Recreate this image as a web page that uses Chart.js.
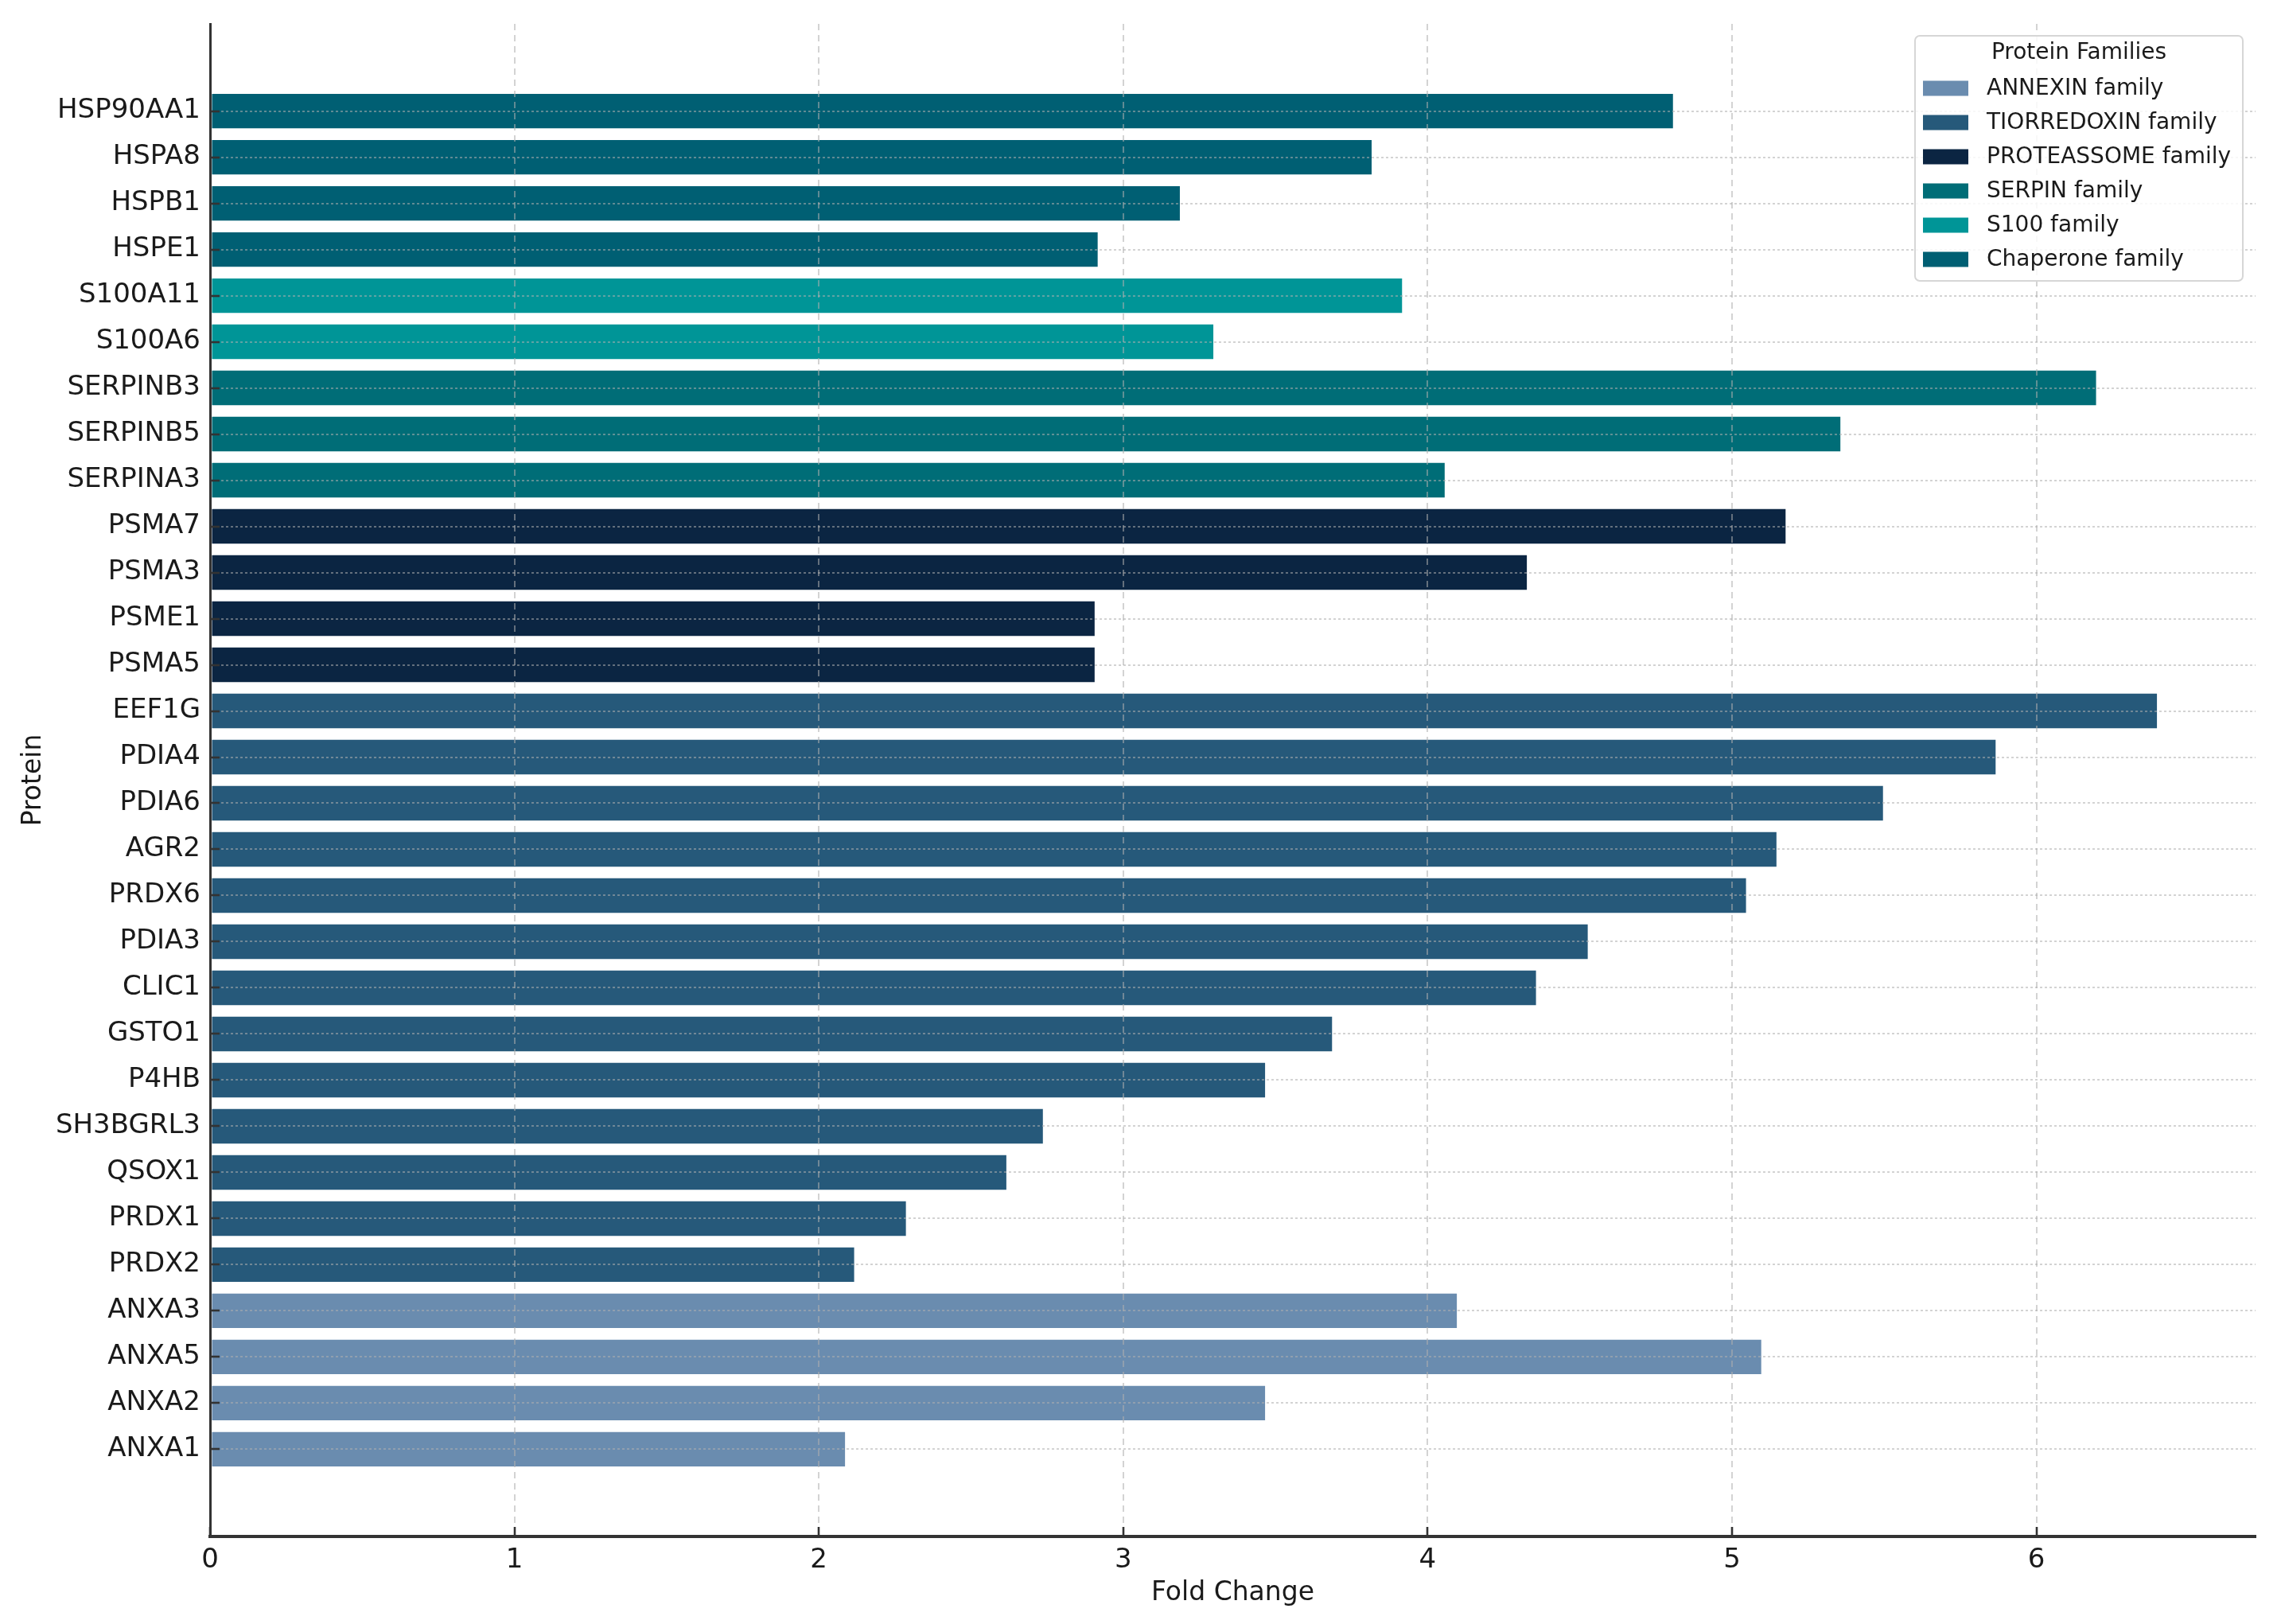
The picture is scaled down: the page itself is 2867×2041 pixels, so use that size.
<!DOCTYPE html>
<html>
<head>
<meta charset="utf-8">
<script src="https://cdn.jsdelivr.net/npm/chart.js@4.4.1/dist/chart.umd.min.js"></script>
<style>
    html, body { margin: 0; padding: 0; background: #ffffff; }
    #wrap { width: 2867px; height: 2041px; }
</style>
</head>
<body>
<div id="wrap"><canvas id="chart" width="2867" height="2041"></canvas></div>
<script>
const proteins = [
    'HSP90AA1', 'HSPA8', 'HSPB1', 'HSPE1', 'S100A11', 'S100A6',
    'SERPINB3', 'SERPINB5', 'SERPINA3', 'PSMA7', 'PSMA3', 'PSME1', 'PSMA5',
    'EEF1G', 'PDIA4', 'PDIA6', 'AGR2', 'PRDX6', 'PDIA3', 'CLIC1', 'GSTO1',
    'P4HB', 'SH3BGRL3', 'QSOX1', 'PRDX1', 'PRDX2',
    'ANXA3', 'ANXA5', 'ANXA2', 'ANXA1',
];

const foldChange = [
    4.81, 3.82, 3.19, 2.92, 3.92, 3.30,
    6.20, 5.36, 4.06, 5.18, 4.33, 2.91, 2.91,
    6.40, 5.87, 5.50, 5.15, 5.05, 4.53, 4.36, 3.69,
    3.47, 2.74, 2.62, 2.29, 2.12,
    4.10, 5.10, 3.47, 2.09,
];

const proteinFamily = [
    'Chaperone family', 'Chaperone family', 'Chaperone family', 'Chaperone family',
    'S100 family', 'S100 family',
    'SERPIN family', 'SERPIN family', 'SERPIN family',
    'PROTEASSOME family', 'PROTEASSOME family', 'PROTEASSOME family', 'PROTEASSOME family',
    'TIORREDOXIN family', 'TIORREDOXIN family', 'TIORREDOXIN family', 'TIORREDOXIN family',
    'TIORREDOXIN family', 'TIORREDOXIN family', 'TIORREDOXIN family', 'TIORREDOXIN family',
    'TIORREDOXIN family', 'TIORREDOXIN family', 'TIORREDOXIN family', 'TIORREDOXIN family',
    'TIORREDOXIN family',
    'ANNEXIN family', 'ANNEXIN family', 'ANNEXIN family', 'ANNEXIN family',
];

const familyNames = [
    'ANNEXIN family', 'TIORREDOXIN family', 'PROTEASSOME family',
    'SERPIN family', 'S100 family', 'Chaperone family',
];

const familyColors = ['#6a8caf', '#26597a', '#0b2542', '#006d77', '#009597', '#005f73'];

const xTicks = [0, 1, 2, 3, 4, 5, 6];

const TEXT = '#1a1a1a';

// legend in the upper right corner of the plot, drawn like the matplotlib frame
const familyLegend = {
    id: 'familyLegend',
    afterDraw(chart) {
        const { ctx, chartArea } = chart;
        const right = chartArea.right - 16;
        const top = chartArea.top + 15;
        const width = 412;
        const height = 308;
        const left = right - width;

        ctx.save();
        ctx.beginPath();
        ctx.roundRect(left, top, width, height, 6);
        ctx.fillStyle = 'rgba(255, 255, 255, 0.85)';
        ctx.fill();
        ctx.lineWidth = 2;
        ctx.strokeStyle = '#d6d6d6';
        ctx.stroke();

        ctx.font = '28px "DejaVu Sans"';
        ctx.fillStyle = TEXT;
        ctx.textBaseline = 'middle';
        ctx.textAlign = 'center';
        ctx.fillText('Protein Families', left + width / 2, top + 22);

        ctx.textAlign = 'left';
        chart.data.datasets.forEach((dataset, i) => {
            const cy = top + 66 + i * 43;
            ctx.fillStyle = dataset.backgroundColor;
            ctx.fillRect(left + 10, cy - 9.5, 57, 19);
            ctx.fillStyle = TEXT;
            ctx.fillText(dataset.label, left + 90, cy + 1);
        });
        ctx.restore();
    },
};

function buildDatasets() {
    return familyNames.map((name, f) => ({
        label: name,
        data: proteins
            .map((protein, i) => ({ x: foldChange[i], y: i, family: proteinFamily[i] }))
            .filter((point) => point.family === name),
        backgroundColor: familyColors[f],
        borderColor: 'rgba(255, 255, 255, 0.25)',
        borderWidth: 1.5,
        borderSkipped: false,
        grouped: false,
        barPercentage: 0.8,
        categoryPercentage: 1.0,
    }));
}

Chart.defaults.font.family = '"DejaVu Sans", sans-serif';
Chart.defaults.color = TEXT;

new Chart(document.getElementById('chart'), {
    type: 'bar',
    data: {
        datasets: buildDatasets(),
    },
    plugins: [familyLegend],
    options: {
        responsive: false,
        devicePixelRatio: 1,
        animation: false,
        indexAxis: 'y',
        layout: {
            padding: { top: 30, right: 32, left: 0, bottom: 0 },
        },
        plugins: {
            legend: { display: false },
            tooltip: { enabled: false },
        },
        scales: {
            x: {
                type: 'linear',
                min: 0,
                max: 6.72,
                afterBuildTicks(axis) {
                    axis.ticks = xTicks.map((v) => ({ value: v }));
                },
                afterFit(axis) {
                    axis.height = 110;
                    axis.paddingLeft = 0;
                    axis.paddingRight = 0;
                },
                ticks: {
                    color: TEXT,
                    padding: 22,
                    font: { size: 34 },
                },
                grid: {
                    z: 1,
                    color: 'rgba(175, 175, 175, 0.55)',
                    lineWidth: 2,
                    tickLength: -12,
                    tickColor: '#333333',
                    tickWidth: 2.6,
                },
                border: {
                    display: true,
                    color: '#333333',
                    width: 4,
                    dash: [8, 6],
                    z: 2,
                },
                title: {
                    display: true,
                    text: 'Fold Change',
                    color: TEXT,
                    font: { size: 33 },
                    padding: { top: 0, bottom: 19 },
                },
            },
            y: {
                type: 'linear',
                reverse: true,
                offset: false,
                min: -1.89,
                max: 30.89,
                afterBuildTicks(axis) {
                    axis.ticks = proteins.map((_, i) => ({ value: i }));
                },
                afterFit(axis) {
                    axis.width = 264;
                    axis.paddingTop = 0;
                    axis.paddingBottom = 0;
                },
                ticks: {
                    color: TEXT,
                    padding: 24,
                    font: { size: 34 },
                    callback: (value) => proteins[value] ?? '',
                },
                grid: {
                    z: 1,
                    offset: false,
                    color: 'rgba(175, 175, 175, 0.55)',
                    lineWidth: 2,
                    tickLength: -12,
                    tickColor: '#333333',
                    tickWidth: 2.6,
                },
                border: {
                    display: true,
                    color: '#333333',
                    width: 3,
                    dash: [3, 3],
                    z: 2,
                },
                title: {
                    display: true,
                    text: 'Protein',
                    color: TEXT,
                    font: { size: 33 },
                    padding: { top: 23, bottom: 0 },
                },
            },
        },
    },
});
</script>
</body>
</html>
